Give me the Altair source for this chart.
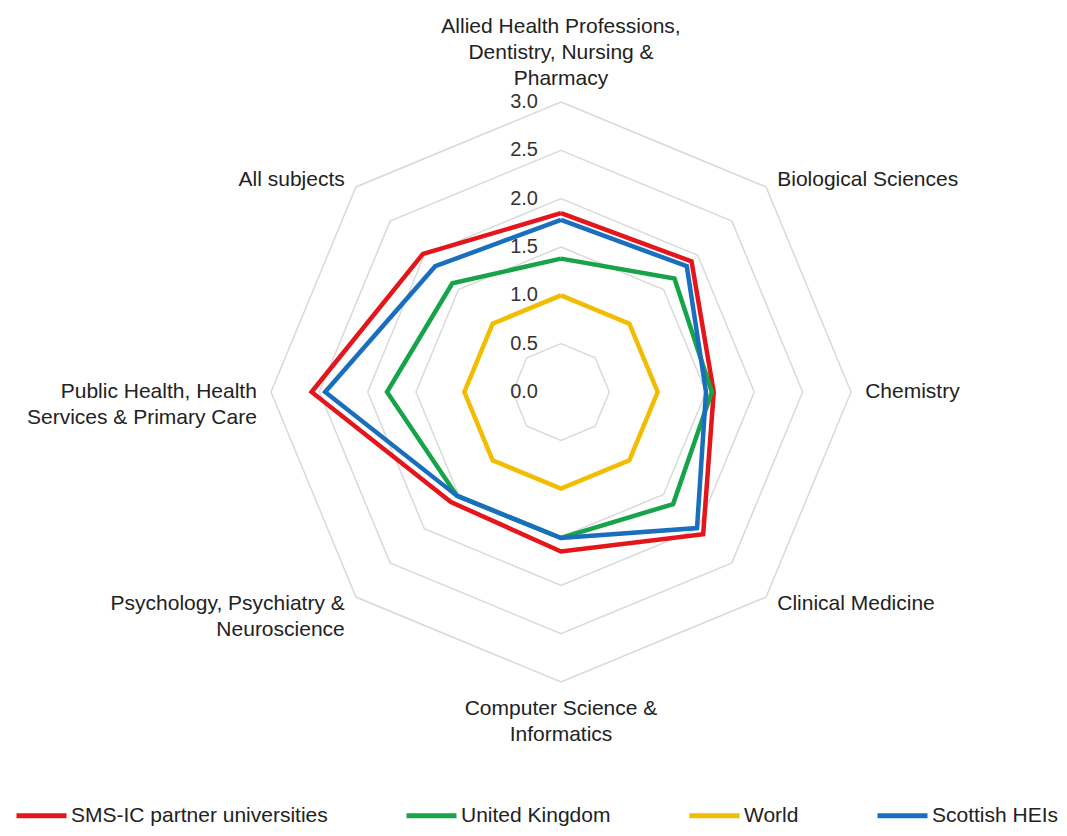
import altair as alt
import pandas as pd

# ---- data ----
categories = [
    "Allied Health Professions,\nDentistry, Nursing &\nPharmacy",
    "Biological Sciences",
    "Chemistry",
    "Clinical Medicine",
    "Computer Science &\nInformatics",
    "Psychology, Psychiatry &\nNeuroscience",
    "Public Health, Health\nServices & Primary Care",
    "All subjects",
]
series_names = ["SMS-IC partner universities", "United Kingdom", "World", "Scottish HEIs"]
sms_ic = [1.85, 1.91, 1.58, 2.08, 1.65, 1.61, 2.58, 2.02]
united_kingdom = [1.38, 1.66, 1.56, 1.64, 1.51, 1.52, 1.80, 1.59]
world = [1.00, 1.00, 1.00, 1.00, 1.00, 1.00, 1.00, 1.00]
scottish_heis = [1.78, 1.84, 1.50, 1.99, 1.51, 1.52, 2.44, 1.84]
series_colors = ["#E4151B", "#17A34A", "#F2BC00", "#1A6EBE"]
grid_levels = [0.5, 1.0, 1.5, 2.0, 2.5, 3.0]
tick_values = [0.0, 0.5, 1.0, 1.5, 2.0, 2.5, 3.0]
tick_labels = ["0.0", "0.5", "1.0", "1.5", "2.0", "2.5", "3.0"]
r_max = 3.0

n = len(categories)
series_values = [sms_ic, united_kingdom, world, scottish_heis]

# ---- tables ----
rows = []
for s, vals in zip(series_names, series_values):
    for i in range(n + 1):
        rows.append({"series": s, "idx": i, "value": vals[i % n]})
df_lines = pd.DataFrame(rows)

grid_rows = []
for lvl in grid_levels:
    for i in range(n + 1):
        grid_rows.append({"level": lvl, "idx": i, "value": lvl})
df_grid = pd.DataFrame(grid_rows)

df_ticks = pd.DataFrame({"idx": [0] * len(tick_values), "value": tick_values, "label": tick_labels})
df_cats = pd.DataFrame({"idx": list(range(n)), "value": [r_max * 1.035] * n, "label": categories})

ang = f"datum.idx * 2 * PI / {n}"
xcalc = f"datum.value * sin({ang})"
ycalc = f"datum.value * cos({ang})"

xs = alt.Scale(domain=[-r_max, r_max])
ys = alt.Scale(domain=[-r_max, r_max])
FONT = "Liberation Sans"

grid = alt.Chart(df_grid).transform_calculate(x=xcalc, y=ycalc).mark_line(
    color="#d9d9d9", strokeWidth=1.5
).encode(
    x=alt.X("x:Q", scale=xs, axis=None),
    y=alt.Y("y:Q", scale=ys, axis=None),
    detail="level:N",
    order="idx:Q",
)

lines = alt.Chart(df_lines).transform_calculate(x=xcalc, y=ycalc).mark_line(
    strokeWidth=4.5, strokeJoin="miter"
).encode(
    x=alt.X("x:Q", scale=xs, axis=None),
    y=alt.Y("y:Q", scale=ys, axis=None),
    color=alt.Color(
        "series:N",
        scale=alt.Scale(domain=series_names, range=series_colors),
        legend=alt.Legend(
            title=None,
            orient="none",
            legendX=-257,
            legendY=686,
            direction="horizontal",
            symbolType="stroke",
            symbolSize=2500,
            symbolStrokeWidth=5,
            labelFont=FONT,
            labelFontSize=21,
            labelColor="#222222",
            labelLimit=0,
            labelOffset=2,
            columnPadding=68,
        ),
    ),
    order="idx:Q",
)

ticks = alt.Chart(df_ticks).transform_calculate(x=xcalc, y=ycalc).mark_text(
    align="right", baseline="middle", dx=-23, fontSize=20, font=FONT, color="#333333"
).encode(
    x=alt.X("x:Q", scale=xs, axis=None),
    y=alt.Y("y:Q", scale=ys, axis=None),
    text="label:N",
)


def cat_layer(idxs, align, baseline, dx, dy):
    return alt.Chart(df_cats).transform_filter(
        alt.FieldOneOfPredicate(field="idx", oneOf=idxs)
    ).transform_calculate(x=xcalc, y=ycalc).mark_text(
        align=align, baseline=baseline, dx=dx, dy=dy, fontSize=21, font=FONT,
        color="#222222", lineBreak="\n", lineHeight=26
    ).encode(
        x=alt.X("x:Q", scale=xs, axis=None),
        y=alt.Y("y:Q", scale=ys, axis=None),
        text="label:N",
    )


cats_left = cat_layer([1, 2, 3], "left", "middle", 4, 0)
cats_right = cat_layer([5, 6, 7], "right", "middle", -4, 0)
cats_top = cat_layer([0], "center", "bottom", 0, -55)
cats_bottom = cat_layer([4], "center", "top", 0, 6)

chart = alt.layer(grid, lines, ticks, cats_left, cats_right, cats_top, cats_bottom).properties(
    width=580,
    height=580,
    padding={"left": 263, "top": 94, "right": 208, "bottom": 146},
    autosize=alt.AutoSizeParams(type="none"),
).configure_view(strokeWidth=0)

chart.save("out.html", embed_options={"renderer": "svg", "actions": False})
